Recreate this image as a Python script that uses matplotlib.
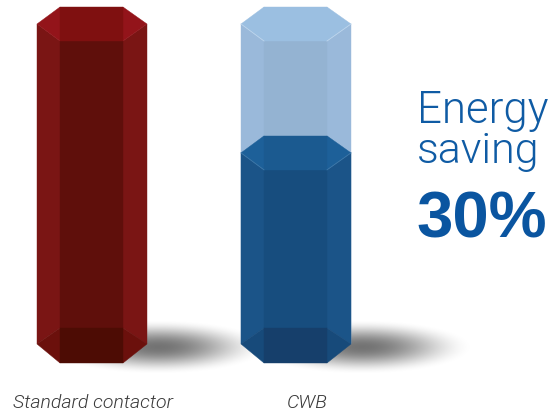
import numpy as np
import matplotlib
matplotlib.use('Agg')
import matplotlib.pyplot as plt

# chart data, heights in percent of the standard column
categories = ['Standard contactor', 'CWB']
values = [100, 63.8]
saving_label = '30%'
saving_text = ['Energy', 'saving']

W, H = 556, 412
Y0, Y100 = 363, 7   # pixel rows of value 0 and value 100


# pixel row -> data value
def row(p):
    return (Y0 - p) / (Y0 - Y100) * 100


def poly(ax, xs, ys, col, z):
    ax.fill(xs, ys, facecolor=col, edgecolor=col, lw=0.3, zorder=z)


# draw one hexagonal column, x is the pixel left edge
def column(ax, x, value, c, z=3):
    x1, x2, x3 = x + 23, x + 86, x + 110
    top = value
    shoulder = top - 17 * 100 / (Y0 - Y100)
    inner = top - 34 * 100 / (Y0 - Y100)
    bot = 0
    bot_sh = row(344)
    bot_in = row(328)
    # body
    poly(ax, [x, x1, x1, x], [shoulder, inner, bot_in, bot_sh], c['side'], z)
    poly(ax, [x2, x3, x3, x2], [inner, shoulder, bot_sh, bot_in], c['side'], z)
    poly(ax, [x1, x2, x2, x1], [inner, inner, bot_in, bot_in], c['front'], z)
    # lid
    poly(ax, [x, x1, x1], [shoulder, top, inner], c['lid_side'], z)
    poly(ax, [x3, x2, x2], [shoulder, top, inner], c['lid_side'], z)
    poly(ax, [x1, x2, x2, x1], [top, top, inner, inner], c['lid'], z)
    # light edge under the lid
    if c.get('edge'):
        ax.plot([x, x1], [shoulder, inner], color=c['edge'], lw=0.6, zorder=z + 0.1)
        ax.plot([x3, x2], [shoulder, inner], color=c['edge'], lw=0.6, zorder=z + 0.1)
    # base
    if c.get('base'):
        poly(ax, [x, x1, x1], [bot_sh, bot_in, bot], c['base_side'], z)
        poly(ax, [x3, x2, x2], [bot_sh, bot_in, bot], c['base_side'], z)
        poly(ax, [x1, x2, x2, x1], [bot_in, bot_in, bot, bot], c['base'], z)


red = {'side': '#7a1514', 'front': '#5f0f0b', 'lid_side': '#93141a', 'lid': '#7f1010',
       'base': '#4d0c04', 'base_side': '#6b100c'}
ghost = {'side': '#9ab9da', 'front': '#94b3d2', 'lid_side': '#9bbfe1', 'lid': '#9bbfe1',
         'edge': '#bdd5ec'}
blue = {'side': '#1b5488', 'front': '#174d7e', 'lid_side': '#1d6099', 'lid': '#1b5a90',
        'base': '#163f6b', 'base_side': '#174a7a', 'edge': '#3f78a8'}

fig = plt.figure(figsize=(W / 100, H / 100), dpi=100)
ax = fig.add_axes([0, 0, 1, 1])
ax.set_xlim(0, W)
ax.set_ylim(row(H), row(0))
ax.axis('off')

# soft floor shadows
xx, yy = np.meshgrid(np.arange(W) + 0.5, np.arange(H) + 0.5)
shade = np.zeros((H, W))
for cx in [158, 362]:
    d = ((xx - cx) / 114) ** 2 + ((yy - 347) / 28) ** 2
    shade = np.maximum(shade, 0.55 * np.clip(1 - d, 0, 1) ** 2.2)
rgba = np.zeros((H, W, 4))
rgba[..., 3] = shade
ax.imshow(rgba, extent=[0, W, row(H), row(0)], aspect='auto', zorder=1, interpolation='bilinear')
ax.set_xlim(0, W)
ax.set_ylim(row(H), row(0))

column(ax, 37, values[0], red)
column(ax, 241, 100, ghost, z=2)
column(ax, 241, values[1], blue)

# labels
font = ['Liberation Sans', 'DejaVu Sans']
light = ['Roboto', 'DejaVu Sans']
ax.text(93, row(408), categories[0], ha='center', va='baseline', style='italic', fontweight=300,
        fontsize=14, color='#3a3a3a', family=light)
ax.text(307, row(408), categories[1], ha='center', va='baseline', style='italic', fontweight=300,
        fontsize=14, color='#3a3a3a', family=light)
ax.text(417, row(123), saving_text[0], ha='left', va='baseline', fontsize=31.5, fontweight=300,
        color='#0f5ba4', family=light)
ax.text(417, row(163), saving_text[1], ha='left', va='baseline', fontsize=31, fontweight=300,
        color='#0f5ba4', family=light)
ax.text(416, row(238), saving_label, ha='left', va='baseline', fontsize=47, fontweight='bold',
        color='#0a55a0', family=font)

fig.savefig('out.png', dpi=100)
